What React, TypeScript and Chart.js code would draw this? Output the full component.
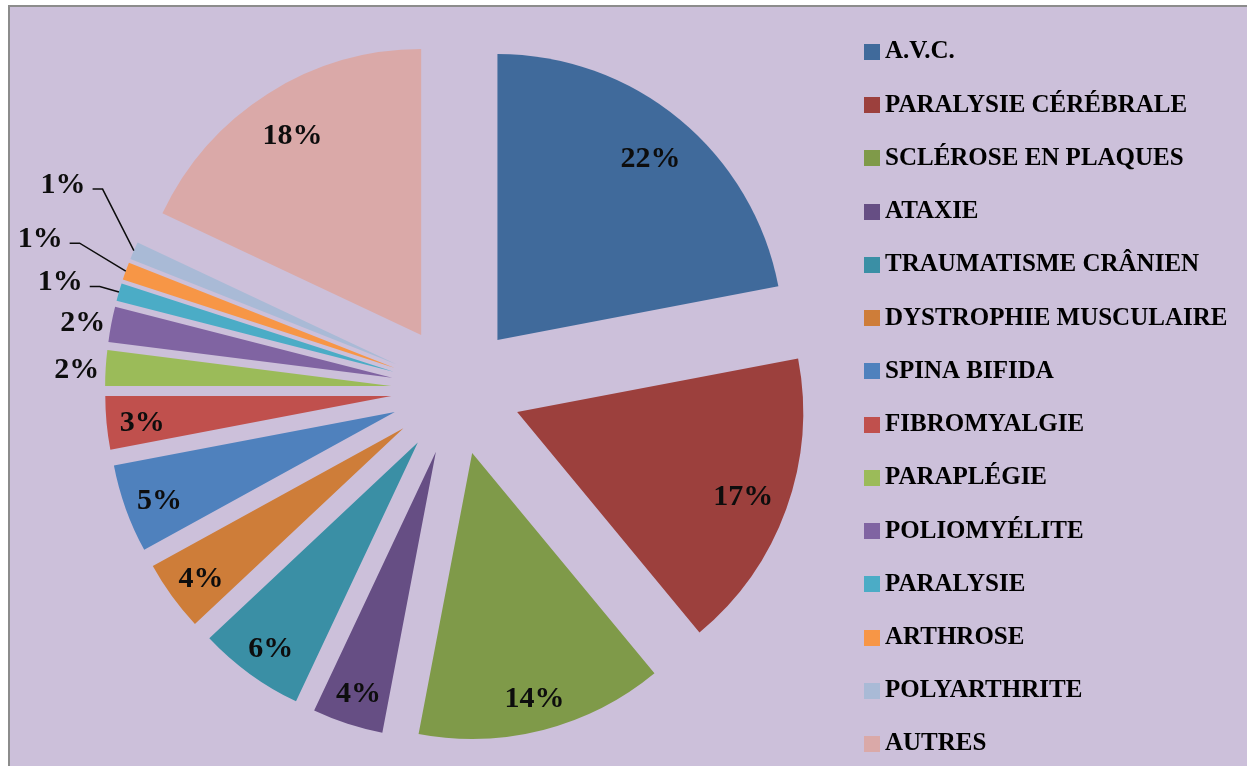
import React, { useEffect, useRef } from 'react';
import { Chart, ArcElement, PieController, Legend } from 'chart.js';

Chart.register(ArcElement, PieController, Legend);

// ---- data ----
const categories: string[] = [
  'A.V.C.',
  'PARALYSIE CÉRÉBRALE',
  'SCLÉROSE EN PLAQUES',
  'ATAXIE',
  'TRAUMATISME CRÂNIEN',
  'DYSTROPHIE MUSCULAIRE',
  'SPINA BIFIDA',
  'FIBROMYALGIE',
  'PARAPLÉGIE',
  'POLIOMYÉLITE',
  'PARALYSIE',
  'ARTHROSE',
  'POLYARTHRITE',
  'AUTRES',
];
const shares: number[] = [22, 17, 14, 4, 6, 4, 5, 3, 2, 2, 1, 1, 1, 18];

// ---- styles ----
const sliceColors: string[] = [
  '#406A9B', '#9C403D', '#7F9A49', '#664E84', '#3A8FA5', '#CE7D39', '#4F81BD',
  '#C0504D', '#9BBB59', '#8064A2', '#4BACC6', '#F79646', '#A9BAD6', '#DAA9A8',
];
const FONT_FAMILY = '"Liberation Serif", "Times New Roman", serif';
const LEGEND_SIZE = 25;
const LEGEND_PAD = 44.2;
const LEGEND_PITCH = 53.23;
const CANVAS_W = 1240;
const CANVAS_H = 850;
const CANVAS_SHIFT_Y = -29;

const explodePlugin = {
  id: 'explode',
  afterDatasetsUpdate(chart: any, _args: any, opts: any) {
    const meta = chart.getDatasetMeta(0);
    meta.data.forEach((arc: any) => {
      const mid = (arc.startAngle + arc.endAngle) / 2;
      arc.x += Math.cos(mid) * opts.distance;
      arc.y += Math.sin(mid) * opts.distance;
    });
  },
};

const labelPlugin = {
  id: 'sliceLabels',
  afterDatasetsDraw(chart: any, _args: any, opts: any) {
    const ctx = chart.ctx as CanvasRenderingContext2D;
    const meta = chart.getDatasetMeta(0);
    const data = chart.data.datasets[0].data as number[];
    const total = data.reduce((a, b) => a + b, 0);
    ctx.save();
    ctx.font = opts.font;
    ctx.fillStyle = opts.color;
    ctx.strokeStyle = opts.color;
    ctx.lineWidth = opts.lineWidth;
    ctx.textBaseline = 'middle';
    meta.data.forEach((arc: any, i: number) => {
      const pct = Math.round((data[i] / total) * 100);
      const text = pct + '%';
      const mid = (arc.startAngle + arc.endAngle) / 2;
      const R = arc.outerRadius;
      const c = Math.cos(mid);
      const s = Math.sin(mid);
      const leader = opts.leaders[i];
      if (leader) {
        const a2 = mid + (leader.angle * Math.PI) / 180;
        const sx = arc.x + c * R;
        const sy = arc.y + s * R;
        const ex = arc.x + Math.cos(a2) * leader.radius;
        const ey = arc.y + Math.sin(a2) * leader.radius;
        ctx.beginPath();
        ctx.moveTo(sx, sy);
        ctx.lineTo(ex, ey);
        ctx.lineTo(ex - opts.leaderTail, ey);
        ctx.stroke();
        ctx.textAlign = 'right';
        ctx.fillText(text, ex - opts.leaderTail - opts.leaderGap, ey + opts.leaderTextDy);
      } else if (pct < opts.insideMin) {
        ctx.textAlign = 'center';
        ctx.fillText(
          text,
          arc.x + c * (R + opts.outsideGap),
          arc.y + s * (R + opts.outsideGap) + opts.textDy
        );
      } else {
        const k = pct >= opts.bigMin ? opts.bigRatio : opts.insideRatio;
        ctx.textAlign = 'center';
        ctx.fillText(text, arc.x + c * R * k, arc.y + s * R * k + opts.textDy);
      }
    });
    ctx.restore();
  },
};

function makeSwatch(color: string): HTMLCanvasElement {
  const c = document.createElement('canvas');
  c.width = 16;
  c.height = 16;
  const g = c.getContext('2d')!;
  g.fillStyle = color;
  g.fillRect(0, 0, 16, 16);
  return c;
}

export default function App() {
  const ref = useRef<HTMLCanvasElement>(null);

  useEffect(() => {
    if (!ref.current) return;
    const m = document.createElement('canvas').getContext('2d')!;
    m.font = `bold ${LEGEND_SIZE}px ${FONT_FAMILY}`;
    const maxW = Math.max(...categories.map((t) => m.measureText(t).width));
    const swatches = sliceColors.map(makeSwatch);

    const chart = new Chart(ref.current, {
      type: 'pie',
      data: {
        labels: categories,
        datasets: [
          {
            data: shares,
            backgroundColor: sliceColors,
            borderWidth: 0,
          },
        ],
      },
      options: {
        responsive: false,
        animation: false,
        events: [],
        radius: 286,
        layout: {
          padding: { top: 0, bottom: 26, left: 30.5 + LEGEND_PAD, right: CANVAS_W - 885 - maxW },
        },
        plugins: {
          tooltip: { enabled: false },
          legend: {
            position: 'right',
            align: 'center',
            labels: {
              usePointStyle: true,
              boxWidth: 1,
              boxHeight: 16,
              padding: LEGEND_PAD,
              color: '#000',
              font: {
                family: FONT_FAMILY,
                size: LEGEND_SIZE,
                weight: 'bold',
                lineHeight: (LEGEND_PITCH - LEGEND_PAD).toFixed(2) + 'px',
              },
              generateLabels: () =>
                categories.map((t, i) => ({
                  text: [t],
                  fillStyle: sliceColors[i],
                  strokeStyle: sliceColors[i],
                  lineWidth: 0,
                  pointStyle: swatches[i],
                  hidden: false,
                  index: i,
                  datasetIndex: 0,
                  fontColor: '#000',
                })),
            },
          },
          explode: { distance: 65 },
          sliceLabels: {
            font: `bold 30px ${FONT_FAMILY}`,
            color: '#0D0D0D',
            lineWidth: 1.5,
            textDy: 4,
            insideMin: 3,
            insideRatio: 0.875,
            bigMin: 15,
            bigRatio: 0.84,
            outsideGap: 29,
            leaderTail: 10,
            leaderGap: 7,
            leaderTextDy: -4,
            leaders: {
              10: { radius: 306, angle: 0 },
              11: { radius: 339, angle: 1.8 },
              12: { radius: 342, angle: 7.4 },
            },
          },
        },
      } as any,
      plugins: [explodePlugin, labelPlugin],
    });
    return () => chart.destroy();
  }, []);

  return (
    <div style={{ position: 'fixed', left: 0, top: 0, right: 0, bottom: 0, overflow: 'hidden' }}>
      <div
        style={{
          position: 'absolute',
          left: 8,
          top: 5,
          width: CANVAS_W + 20,
          height: CANVAS_H,
          border: '2px solid #8c8c8c',
          background: '#CCC0DA',
        }}
      >
        <canvas
          ref={ref}
          width={CANVAS_W}
          height={CANVAS_H}
          style={{
            position: 'absolute',
            left: 0,
            top: CANVAS_SHIFT_Y,
            display: 'block',
            width: CANVAS_W,
            height: CANVAS_H,
          }}
        />
      </div>
    </div>
  );
}
